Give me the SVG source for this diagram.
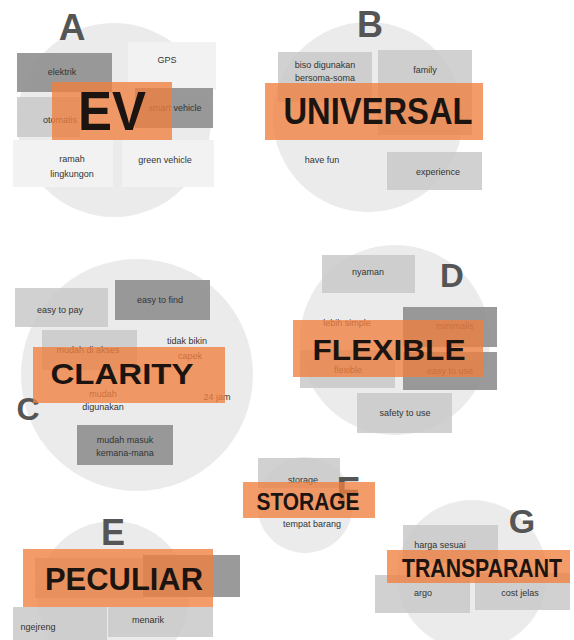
<svg xmlns="http://www.w3.org/2000/svg" width="574" height="640" viewBox="0 0 574 640">
<style>
.bg{fill:#ebebeb}
.lt{fill:#c9c9c9;opacity:.85}
.fa{fill:#f2f2f2}
.dk{fill:#8f8f8f;opacity:.9}
.or{fill:#f1803f;opacity:.78}
.s{font-family:"Liberation Sans",Arial,sans-serif;font-size:9px;fill:#333;text-anchor:middle}
.L{font-family:"Liberation Sans",Arial,sans-serif;font-weight:bold;fill:#555;text-anchor:middle}
.W{font-family:"Liberation Sans",Arial,sans-serif;font-weight:bold;fill:#1c1410;text-anchor:middle}
</style>
<rect width="574" height="640" fill="#ffffff"/>

<g id="A">
<circle class="bg" cx="114" cy="120" r="97"/>
<rect class="fa" x="128" y="42" width="88" height="48"/>
<rect class="fa" x="13" y="140" width="100" height="47"/>
<rect class="fa" x="122" y="140" width="92" height="47"/>
<rect class="dk" x="17" y="53" width="95" height="39"/>
<rect class="lt" x="17" y="97" width="63" height="40"/>
<rect class="dk" x="135" y="88" width="78" height="40"/>
<text class="L" x="72" y="40" font-size="37">A</text>
<text class="s" x="62" y="75">elektrik</text>
<text class="s" x="167" y="63">GPS</text>
<text class="s" x="60" y="123">otomatis</text>
<text class="s" x="175" y="111">smart vehicle</text>
<text class="s" x="72" y="162">ramah</text>
<text class="s" x="72" y="177">lingkungon</text>
<text class="s" x="165" y="163">green vehicle</text>
<rect class="or" x="52" y="82" width="120" height="58"/>
<text class="W" x="112" y="130" font-size="55" textLength="68" lengthAdjust="spacingAndGlyphs">EV</text>
</g>

<g id="B">
<circle class="bg" cx="368" cy="117" r="95"/>
<rect class="lt" x="278" y="52" width="94" height="50"/>
<rect class="lt" x="378" y="50" width="94" height="85"/>
<rect class="lt" x="387" y="152" width="95" height="38"/>
<text class="L" x="370" y="37" font-size="36">B</text>
<text class="s" x="325" y="68">biso digunakan</text>
<text class="s" x="325" y="81">bersoma-soma</text>
<text class="s" x="425" y="73">family</text>
<text class="s" x="322" y="163">have fun</text>
<text class="s" x="438" y="175">experience</text>
<rect class="or" x="265" y="83" width="218" height="57"/>
<text class="W" x="378" y="124" font-size="37" textLength="189" lengthAdjust="spacingAndGlyphs">UNIVERSAL</text>
</g>

<g id="C">
<circle class="bg" cx="137" cy="375" r="116"/>
<rect class="lt" x="15" y="288" width="93" height="39"/>
<rect class="dk" x="115" y="280" width="95" height="40"/>
<rect class="lt" x="42" y="330" width="95" height="40"/>
<rect class="dk" x="77" y="425" width="96" height="40"/>
<text class="L" x="28" y="420" font-size="32">C</text>
<text class="s" x="60" y="313">easy to pay</text>
<text class="s" x="160" y="303">easy to find</text>
<text class="s" x="88" y="353">mudah di akses</text>
<text class="s" x="187" y="344">tidak bikin</text>
<text class="s" x="190" y="359">capek</text>
<text class="s" x="103" y="397">mudah</text>
<text class="s" x="103" y="410">digunakan</text>
<text class="s" x="217" y="400">24 jam</text>
<text class="s" x="125" y="443">mudah masuk</text>
<text class="s" x="125" y="456">kemana-mana</text>
<rect class="or" x="33" y="347" width="192" height="56"/>
<text class="W" x="122" y="384" font-size="30" textLength="143" lengthAdjust="spacingAndGlyphs">CLARITY</text>
</g>

<g id="D">
<circle class="bg" cx="395" cy="340" r="95"/>
<rect class="lt" x="322" y="255" width="93" height="38"/>
<rect class="dk" x="403" y="307" width="94" height="40"/>
<rect class="dk" x="403" y="352" width="94" height="38"/>
<rect class="lt" x="300" y="350" width="95" height="38"/>
<rect class="lt" x="357" y="393" width="95" height="40"/>
<text class="L" x="452" y="287" font-size="33">D</text>
<text class="s" x="368" y="275">nyaman</text>
<text class="s" x="347" y="326">lebih simple</text>
<text class="s" x="455" y="329">minimalis</text>
<text class="s" x="348" y="373">flexible</text>
<text class="s" x="450" y="374">easy to use</text>
<text class="s" x="405" y="416">safety to use</text>
<rect class="or" x="293" y="320" width="190" height="57"/>
<text class="W" x="389" y="360" font-size="30" textLength="153" lengthAdjust="spacingAndGlyphs">FLEXIBLE</text>
</g>

<g id="F">
<circle class="bg" cx="305" cy="505" r="48"/>
<rect class="lt" x="258" y="458" width="82" height="30"/>
<text class="L" x="348" y="504" font-size="38">F</text>
<text class="s" x="303" y="483">storage</text>
<text class="s" x="312" y="527">tempat barang</text>
<rect class="or" x="243" y="482" width="132" height="36"/>
<text class="W" x="308" y="510" font-size="23" textLength="103" lengthAdjust="spacingAndGlyphs">STORAGE</text>
</g>

<g id="E">
<circle class="bg" cx="113" cy="597" r="76"/>
<rect class="lt" x="35" y="558" width="108" height="40"/>
<rect class="dk" x="143" y="555" width="97" height="42"/>
<rect class="lt" x="13" y="607" width="94" height="33"/>
<rect class="lt" x="108" y="607" width="105" height="30"/>
<text class="L" x="113" y="545" font-size="36">E</text>
<text class="s" x="38" y="630">ngejreng</text>
<text class="s" x="148" y="623">menarik</text>
<rect class="or" x="23" y="549" width="190" height="58"/>
<text class="W" x="124" y="590" font-size="32" textLength="158" lengthAdjust="spacingAndGlyphs">PECULIAR</text>
</g>

<g id="G">
<circle class="bg" cx="472" cy="575" r="75"/>
<rect class="lt" x="403" y="525" width="95" height="38"/>
<rect class="lt" x="375" y="575" width="95" height="38"/>
<rect class="lt" x="475" y="573" width="95" height="37"/>
<text class="L" x="522" y="533" font-size="34">G</text>
<text class="s" x="440" y="548">harga sesuai</text>
<text class="s" x="423" y="596">argo</text>
<text class="s" x="520" y="596">cost jelas</text>
<rect class="or" x="387" y="550" width="183" height="33"/>
<text class="W" x="482" y="577" font-size="26" textLength="160" lengthAdjust="spacingAndGlyphs">TRANSPARANT</text>
</g>
</svg>
